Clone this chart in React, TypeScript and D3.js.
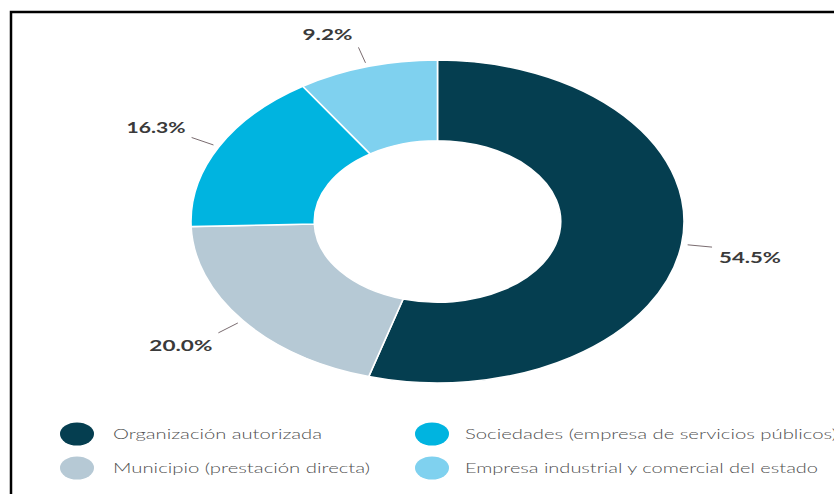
import React from "react";
import * as d3 from "d3";

const categories = [
  "Organización autorizada",
  "Municipio (prestación directa)",
  "Sociedades (empresa de servicios públicos)",
  "Empresa industrial y comercial del estado",
];
const values = [54.5, 20.0, 16.3, 9.2];
const valueLabels = ["54.5%", "20.0%", "16.3%", "9.2%"];
const colors = ["#053E50", "#B6C9D5", "#00B4E0", "#7FD1EF"];

// legend order (row-major): [0, 2] / [1, 3]
const legendOrder = [0, 2, 1, 3];

const W = 834;
const H = 494;
const cx = 437.5;
const cy = 221.5;
const ry = 161.5;
const rx = 246.5;
const sx = rx / ry;

const labelWidths = [62, 63, 59, 50];
const legendWidths = [209, 257, 372, 353];

export default function App() {
  const pie = d3
    .pie<number>()
    .sort(null)
    .value((d) => d)
    .startAngle(0)
    .endAngle(2 * Math.PI);
  const arcs = pie(values);
  const arc = d3.arc<d3.PieArcDatum<number>>().innerRadius(ry * 0.5).outerRadius(ry);

  const pt = (a: number, r: number) => [
    cx + rx * r * Math.sin(a),
    cy - ry * r * Math.cos(a),
  ];

  return (
    <svg
      width={W}
      height={H}
      style={{ position: "absolute", left: 0, top: 0, background: "#fff" }}
    >
      <rect x={0} y={0} width={W} height={H} fill="#fff" />
      <path d={`M ${W} 12 H 11 V ${H}`} fill="none" stroke="#000" strokeWidth={2.5} />
      <g transform={`translate(${cx},${cy}) scale(${sx},1)`}>
        {arcs.map((a, i) => (
          <path
            key={i}
            d={arc(a) || ""}
            fill={colors[i]}
            stroke="#fff"
            strokeWidth={1.6}
            vectorEffect="non-scaling-stroke"
          />
        ))}
      </g>
      {arcs.map((a, i) => {
        const mid = (a.startAngle + a.endAngle) / 2;
        const [x1, y1] = pt(mid, 1.025);
        const [x2, y2] = pt(mid, 1.125);
        const s = Math.sin(mid);
        const c = Math.cos(mid);
        const right = s > 0;
        const tx = x2 + (right ? 7 : -6);
        const ty = y2 - c * 6 + (c < 0 ? 9 : -7);
        return (
          <g key={i}>
            <line x1={x1} y1={y1} x2={x2} y2={y2} stroke="#7a6c70" strokeWidth={1} />
            <text
              x={right ? tx : tx - labelWidths[i]}
              y={ty}
              dy="0.36em"
              textLength={labelWidths[i]}
              lengthAdjust="spacingAndGlyphs"
              fontFamily="Lato, 'Open Sans', sans-serif"
              fontWeight={700}
              fontSize={16}
              fill="#3a3a3a"
            >
              {valueLabels[i]}
            </text>
          </g>
        );
      })}
      {legendOrder.map((ci, k) => {
        const col = k % 2;
        const row = Math.floor(k / 2);
        const mx = col === 0 ? 77 : 432;
        const my = row === 0 ? 434 : 468;
        const tx = col === 0 ? 113 : 465;
        return (
          <g key={ci}>
            <ellipse cx={mx} cy={my} rx={17} ry={11.5} fill={colors[ci]} />
            <text
              x={tx}
              y={my}
              dy="0.35em"
              textLength={legendWidths[ci]}
              lengthAdjust="spacingAndGlyphs"
              fontFamily="Lato, 'Open Sans', sans-serif"
              fontWeight={300}
              fontSize={14}
              fill="#505050"
            >
              {categories[ci]}
            </text>
          </g>
        );
      })}
    </svg>
  );
}
